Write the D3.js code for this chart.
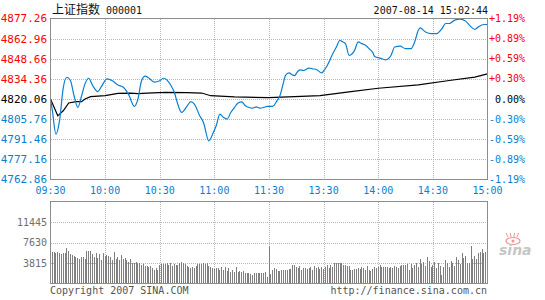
<!DOCTYPE html>
<html>
<head>
<meta charset="utf-8">
<script src="https://cdn.jsdelivr.net/npm/d3@7"></script>
<style>
  body { margin: 0; background: #fff; }
  svg { display: block; }
  text { font-family: "DejaVu Sans Mono", monospace; }
</style>
</head>
<body>
<svg id="chart" width="545" height="300"></svg>
<script>
// price index, trading minutes since 09:30 (11:30 and 13:00 share minute 120)
const priceMin = [0, 1, 3, 5, 7, 9, 11, 13, 15, 17, 19, 21, 23, 26, 28, 31, 34, 37, 40, 43, 46, 48, 50, 52, 54, 57, 60, 62, 64, 66, 68, 70, 72, 75, 77, 79, 82, 84, 87, 89, 91, 93, 95, 97, 99, 101, 103, 105, 107, 109, 111, 113, 115, 117, 119, 120, 122, 124, 125, 126, 128, 129, 131, 133, 134, 136, 137, 139, 142, 144, 146, 149, 150, 152, 155, 157, 159, 160, 162, 164, 165, 167, 169, 171, 173, 175, 177, 178, 181, 184, 187, 189, 192, 195, 198, 200, 202, 203, 206, 209, 212, 215, 217, 219, 222, 225, 228, 231, 233, 235, 238, 240];
const priceVal = [4820.06, 4812, 4795.0, 4805, 4828, 4835.5, 4833, 4822, 4814.1, 4822, 4831, 4834.8, 4830, 4825.3, 4829, 4834.4, 4833, 4830, 4828.4, 4823, 4814.8, 4820, 4833, 4836.3, 4835, 4832, 4833, 4834.8, 4833.5, 4830, 4824.8, 4816, 4810.5, 4815, 4818.2, 4816.5, 4808, 4803.4, 4790.3, 4795, 4801, 4809.3, 4807, 4805.8, 4810.5, 4814, 4817.2, 4818, 4815.3, 4814, 4813.6, 4814.5, 4813.6, 4814, 4814.8, 4814.8, 4814.8, 4818, 4820, 4822.4, 4832, 4836.7, 4838.6, 4837, 4836.7, 4840, 4840.8, 4840.3, 4842, 4841.5, 4841, 4838.6, 4840, 4843.9, 4852.2, 4857, 4861.8, 4861, 4859.4, 4851, 4851.5, 4854.6, 4860.6, 4859.4, 4858.2, 4855.8, 4853, 4850.3, 4849.1, 4847.9, 4851, 4857, 4857.7, 4855.8, 4855.8, 4860.6, 4868.9, 4870.6, 4867.7, 4866.5, 4866.5, 4870.1, 4873.7, 4873.7, 4876.1, 4876.8, 4875.4, 4871.3, 4869.6, 4871.3, 4873, 4873];

// average price line
const avgMin = [0, 4, 7, 10, 14, 17, 19, 22, 30, 37, 44, 48, 53, 63, 75, 83, 88, 101, 120, 148, 165, 180, 202, 219, 233, 240];
const avgVal = [4820.06, 4808.1, 4811.7, 4817.2, 4818.2, 4818.2, 4820.06, 4821.7, 4822.4, 4824.1, 4824.3, 4823.9, 4824.3, 4824.8, 4824.6, 4824.3, 4822.4, 4821.5, 4821.0, 4822.4, 4825.3, 4827.7, 4830.1, 4833.2, 4835.6, 4837.9];

// volume per minute (lots), minute 0..240
const volume = [
  7245, 5860, 5800, 5700, 5900, 5600, 5500, 5700, 5600, 6680,
  6000, 5500, 5300, 5200, 4900, 4800, 4600, 4900, 5000, 4500,
  6100, 6100, 6000, 5400, 4900, 5600, 4700, 5400, 4300, 5700,
  5200, 5300, 5200, 5000, 4400, 5800, 4600, 4900, 4300, 5300,
  4600, 4800, 4300, 4000, 4600, 3900, 3800, 4000, 3900, 3900,
  3400, 3600, 3200, 3300, 3000, 3200, 2900, 2600, 2800, 2500,
  3400, 3600, 3700, 3600, 3800, 3500, 3900, 3200, 3700, 3400,
  3400, 3900, 4000, 3900, 3600, 3300, 3000, 2900, 3100, 2800,
  3200, 3600, 3700, 3600, 3900, 3600, 3900, 3300, 3100, 2800,
  2700, 2900, 2800, 2500, 3000, 2600, 3000, 2400, 2800, 2200,
  2600, 2200, 3000, 2200, 2400, 2100, 2300, 2000, 2000, 1900,
  1800, 1600, 2000, 2000, 1900, 2000, 1900, 2000, 2200, 1200,
  7000, 1800, 2500, 2800, 2700, 2400, 2400, 2500, 2500, 2500,
  2600, 2700, 2700, 3500, 3400, 3100, 2900, 3200, 2600, 2800,
  2800, 2700, 2900, 3000, 2600, 3200, 2800, 3000, 2700, 3100,
  2700, 3000, 3400, 2800, 3500, 3000, 3800, 3900, 3900, 3900,
  3800, 3400, 3500, 3200, 3200, 2600, 2600, 2700, 2700, 2800,
  2700, 3000, 2800, 2600, 3200, 2600, 2300, 2700, 3000, 2800,
  3100, 3500, 3100, 3000, 3100, 3000, 2900, 3000, 2800, 3200,
  3000, 2800, 3300, 3500, 3400, 3400, 3600, 2500, 3600, 2800,
  3400, 3800, 3000, 4600, 3600, 4000, 3200, 5000, 4200, 3100,
  3500, 4000, 2800, 3800, 3300, 1600, 3000, 4300, 3800, 3000,
  4100, 3900, 3300, 5000, 4400, 3700, 5700, 4800, 5200, 3900,
  3800, 7000, 4600, 5100, 4600, 5700, 5900, 6500, 5600, 5900,
  6600
];

const priceTicks = ["4877.26", "4862.96", "4848.66", "4834.36", "4820.06", "4805.76", "4791.46", "4777.16", "4762.86"];
const pctTicks = ["+1.19%", "+0.89%", "+0.59%", "+0.30%", "0.00%", "-0.30%", "-0.59%", "-0.89%", "-1.19%"];
const timeTicks = ["09:30", "10:00", "10:30", "11:00", "11:30", "13:30", "14:00", "14:30", "15:00"];
const volTicks = [11445, 7630, 3815];
const prevClose = 4820.06;

const RED = "#ff0000", BLUE = "#0a7fd2", GRID = "#b8b8b8", BORDER = "#8c8c8c";

let svg = d3.select("#chart");

let x = d3.scaleLinear().domain([0, 240]).range([50.5, 487.5]);
let y = d3.scaleLinear().domain([4762.86, 4877.26]).range([179.5, 18.5]);
let yv = d3.scaleLinear().domain([0, 15260]).range([283.5, 201.5]);

function tickColor(i) {
    if (i < 4) return RED;
    if (i == 4) return "#000";
    return BLUE;
}

// grid - price panel
let grid = svg.append("g")
    .attr("stroke", GRID)
    .attr("stroke-dasharray", "1,1")
    .attr("shape-rendering", "crispEdges");
priceTicks.forEach((t, i) => {
    if (i == 0 || i == priceTicks.length - 1) return;
    let yy = Math.round(y(+t)) + 0.5;
    grid.append("line").attr("x1", 51).attr("x2", 487).attr("y1", yy).attr("y2", yy);
});
timeTicks.forEach((t, i) => {
    if (i == 0 || i == timeTicks.length - 1) return;
    let xx = Math.round(x(i * 30)) + 0.5;
    grid.append("line").attr("x1", xx).attr("x2", xx).attr("y1", 19).attr("y2", 179);
    grid.append("line").attr("x1", xx).attr("x2", xx).attr("y1", 202).attr("y2", 283);
});
volTicks.forEach(v => {
    let yy = Math.round(yv(v)) + 0.5;
    grid.append("line").attr("x1", 51).attr("x2", 487).attr("y1", yy).attr("y2", yy);
});

// volume bars
svg.append("g")
    .attr("stroke", "#7f7f7f")
    .attr("shape-rendering", "crispEdges")
    .selectAll("line")
    .data(volume)
    .join("line")
    .attr("x1", (d, i) => Math.floor(x(i)) + 0.5)
    .attr("x2", (d, i) => Math.floor(x(i)) + 0.5)
    .attr("y1", 283)
    .attr("y2", d => yv(d));

// price + average lines
let avgLine = d3.line().x(d => x(d[0])).y(d => y(d[1]));
svg.append("path")
    .datum(avgMin.map((m, i) => [m, avgVal[i]]))
    .attr("fill", "none")
    .attr("stroke", "#000")
    .attr("stroke-width", 1.2)
    .attr("d", avgLine);

let priceLine = d3.line().x(d => x(d[0])).y(d => y(d[1])).curve(d3.curveMonotoneX);
svg.append("path")
    .datum(priceMin.map((m, i) => [m, priceVal[i]]))
    .attr("fill", "none")
    .attr("stroke", BLUE)
    .attr("stroke-width", 1.2)
    .attr("d", priceLine);

// panel borders
svg.append("rect").attr("x", 50.5).attr("y", 18.5).attr("width", 437).attr("height", 161)
    .attr("fill", "none").attr("stroke", BORDER).attr("shape-rendering", "crispEdges");
svg.append("rect").attr("x", 50.5).attr("y", 201.5).attr("width", 437).attr("height", 82)
    .attr("fill", "none").attr("stroke", BORDER).attr("shape-rendering", "crispEdges");

// left price labels
svg.append("g").selectAll("text")
    .data(priceTicks)
    .join("text")
    .attr("x", 47)
    .attr("y", d => y(+d))
    .attr("dy", "0.36em")
    .attr("text-anchor", "end")
    .attr("font-size", "11px")
    .attr("fill", (d, i) => tickColor(i))
    .text(d => d);

// right percent labels
svg.append("g").selectAll("text")
    .data(pctTicks)
    .join("text")
    .attr("x", 525)
    .attr("y", (d, i) => y(+priceTicks[i]))
    .attr("dy", "0.36em")
    .attr("text-anchor", "end")
    .attr("font-size", "10px")
    .attr("fill", (d, i) => tickColor(i))
    .text(d => d);

// time labels
svg.append("g").selectAll("text")
    .data(timeTicks)
    .join("text")
    .attr("x", (d, i) => x(i * 30))
    .attr("y", 194)
    .attr("text-anchor", "middle")
    .attr("font-size", "10px")
    .attr("fill", BLUE)
    .text(d => d);

// volume labels
svg.append("g").selectAll("text")
    .data(volTicks)
    .join("text")
    .attr("x", 47)
    .attr("y", d => yv(d))
    .attr("dy", "0.36em")
    .attr("text-anchor", "end")
    .attr("font-size", "10px")
    .attr("fill", "#707070")
    .text(d => d);

// title + time stamp
let title = svg.append("text").attr("x", 52).attr("y", 14).attr("fill", "#111");
title.append("tspan")
    .style("font-family", "'Noto Sans CJK SC', sans-serif")
    .attr("font-size", "12px")
    .text("上证指数");
title.append("tspan")
    .attr("x", 106)
    .attr("font-size", "10px")
    .text("000001");

svg.append("text")
    .attr("x", 488).attr("y", 14)
    .attr("text-anchor", "end")
    .attr("font-size", "10px")
    .attr("fill", "#111")
    .text("2007-08-14 15:02:44");

// footer
svg.append("text")
    .attr("x", 50).attr("y", 294)
    .attr("font-size", "10px")
    .attr("fill", "#555")
    .text("Copyright 2007 SINA.COM");
svg.append("text")
    .attr("x", 487).attr("y", 294)
    .attr("text-anchor", "end")
    .attr("font-size", "10px")
    .attr("fill", "#555")
    .text("http://finance.sina.com.cn");

// sina logo (faint)
let logo = svg.append("g").attr("opacity", 0.55);
logo.append("ellipse").attr("cx", 513).attr("cy", 241).attr("rx", 7).attr("ry", 3.5)
    .attr("fill", "none").attr("stroke", "#e04040").attr("stroke-width", 1.2);
logo.append("circle").attr("cx", 513).attr("cy", 241).attr("r", 1.5).attr("fill", "#e04040");
[-5, -2, 1, 4].forEach(dx => {
    logo.append("line").attr("x1", 513 + dx).attr("x2", 513 + dx * 1.4).attr("y1", 237).attr("y2", 233)
        .attr("stroke", "#e04040").attr("stroke-width", 1);
});
logo.append("text")
    .attr("x", 499).attr("y", 255)
    .style("font-family", "'DejaVu Sans', sans-serif")
    .attr("font-size", "14px")
    .attr("font-style", "italic")
    .attr("font-weight", "bold")
    .attr("fill", "#999")
    .text("sina");
</script>
</body>
</html>
